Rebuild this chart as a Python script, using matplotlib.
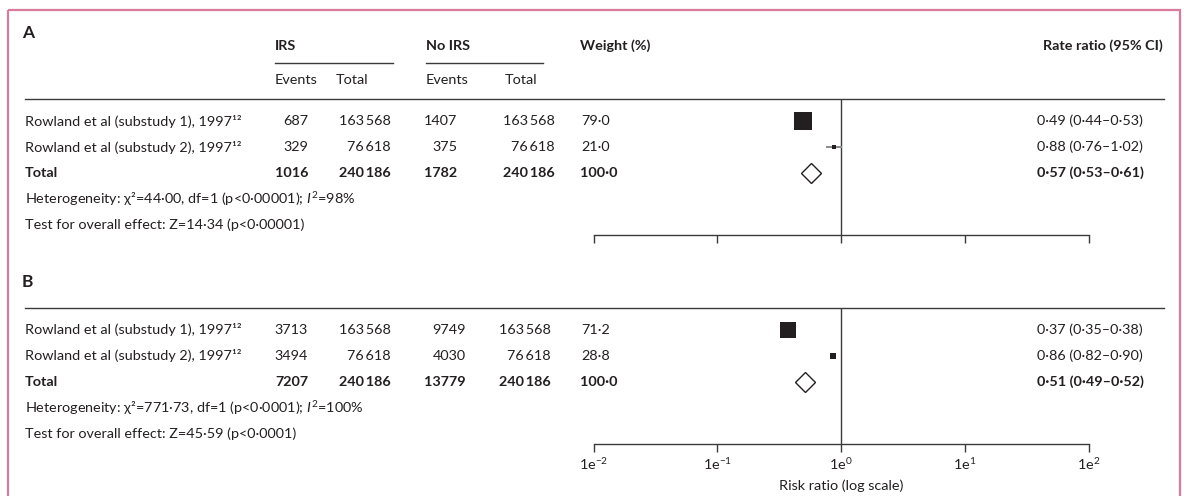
import matplotlib
matplotlib.use("Agg")
import matplotlib.pyplot as plt
from matplotlib.patches import Rectangle

plt.rcParams['font.family'] = ['Lato', 'DejaVu Sans']
plt.rcParams['mathtext.fontset'] = 'custom'
plt.rcParams['mathtext.rm'] = 'Lato'
plt.rcParams['mathtext.it'] = 'Lato:italic'
plt.rcParams['mathtext.bf'] = 'Lato:bold'
plt.rcParams['mathtext.default'] = 'regular'

INK = '#231f20'
RULE = '#3a3a3a'
CI_GREY = '#8a8a8a'
FRAME = '#d97b9b'

# ---- data ----------------------------------------------------------------
studies = ["Rowland et al (substudy 1), 1997", "Rowland et al (substudy 2), 1997"]
ref_mark = "¹²"

# Panel A
irs_events_a = [687, 329]
irs_total_a = [163568, 76618]
noirs_events_a = [1407, 375]
noirs_total_a = [163568, 76618]
weight_a = [79.0, 21.0]
rr_a = [0.49, 0.88]
rr_lo_a = [0.44, 0.76]
rr_hi_a = [0.53, 1.02]
pooled_a = [1016, 240186, 1782, 240186, 100.0]
pooled_rr_a = [0.57, 0.53, 0.61]
hetero_a = ("44·00", "1", "p<0·00001", "98")
overall_a = ("14·34", "p<0·00001")

# Panel B
irs_events_b = [3713, 3494]
irs_total_b = [163568, 76618]
noirs_events_b = [9749, 4030]
noirs_total_b = [163568, 76618]
weight_b = [71.2, 28.8]
rr_b = [0.37, 0.86]
rr_lo_b = [0.35, 0.82]
rr_hi_b = [0.38, 0.90]
pooled_b = [7207, 240186, 13779, 240186, 100.0]
pooled_rr_b = [0.51, 0.49, 0.52]
hetero_b = ("771·73", "1", "p<0·0001", "100")
overall_b = ("45·59", "p<0·0001")

axis_ticks = [1e-2, 1e-1, 1e0, 1e1, 1e2]
axis_tick_labels = ["1e$^{-2}$", "1e$^{-1}$", "1e$^{0}$", "1e$^{1}$", "1e$^{2}$"]


def dec(v, nd):
    return f"{v:.{nd}f}".replace(".", "·")


def count(n):
    s = str(n)
    if n >= 20000:
        return s[:-3] + "\u2009" + s[-3:]
    return s


def ratio(r, lo, hi):
    return f"{dec(r, 2)} ({dec(lo, 2)}–{dec(hi, 2)})"


# ---- figure & layout (pixel units) ---------------------------------------
W, H = 1184, 496
fig = plt.figure(figsize=(W / 100, H / 100), dpi=100)
bg = fig.add_axes([0, 0, 1, 1])
bg.set_xlim(0, W)
bg.set_ylim(H, 0)
bg.axis('off')

FS = 10.4
X_LABEL = 25
X_RULE_END = 1164
X_WEIGHT = 581
X_RR = 1037
X_LOG_LO, X_LOG_HI = 593.5, 1089

bg.add_patch(Rectangle((8, 10), 1172, 500, fill=False, edgecolor=FRAME, lw=1.6))


def txt(x, y, s, ha='left', bold=False, size=FS):
    bg.text(x, y, s, ha=ha, va='center', fontsize=size, color=INK,
            fontweight='bold' if bold else 'normal')


def panel(letter, top, cols, ev_i, tot_i, ev_c, tot_c, wts, rr, lo, hi,
          pooled, pooled_rr, hetero, overall, headers, show_labels):
    txt(X_LABEL - 3, top, letter, bold=True, size=12.5)
    if headers:
        txt(275, 46, "IRS", bold=True)
        txt(426, 46, "No IRS", bold=True)
        txt(580, 46, "Weight (%)", bold=True)
        txt(1163, 46, "Rate ratio (95% CI)", ha='right', bold=True)
        bg.plot([275, 393], [63, 63], color=RULE, lw=1.0)
        bg.plot([426, 543], [63, 63], color=RULE, lw=1.0)
        txt(275, 80, "Events")
        txt(336, 80, "Total")
        txt(426, 80, "Events")
        txt(505, 80, "Total")
        y_rule = 99
    else:
        y_rule = top + 26
    bg.plot([X_LABEL, X_RULE_END], [y_rule, y_rule], color=RULE, lw=1.0)

    rows = [y_rule + 22 + 26 * i for i in range(5)]
    x_ev_i, x_tot_i, x_ev_c, x_tot_c = cols
    for i, name in enumerate(studies):
        y = rows[i]
        txt(X_LABEL, y, name + ref_mark)
        txt(x_ev_i, y, count(ev_i[i]), ha='right')
        txt(x_tot_i, y, count(tot_i[i]), ha='right')
        txt(x_ev_c, y, count(ev_c[i]), ha='right')
        txt(x_tot_c, y, count(tot_c[i]), ha='right')
        txt(X_WEIGHT, y, dec(wts[i], 1))
        txt(X_RR, y, ratio(rr[i], lo[i], hi[i]))
    y = rows[2]
    txt(X_LABEL, y, "Total", bold=True)
    txt(x_ev_i, y, count(pooled[0]), ha='right', bold=True)
    txt(x_tot_i, y, count(pooled[1]), ha='right', bold=True)
    txt(x_ev_c, y, count(pooled[2]), ha='right', bold=True)
    txt(x_tot_c, y, count(pooled[3]), ha='right', bold=True)
    txt(X_WEIGHT - 1, y, dec(pooled[4], 1), bold=True)
    txt(X_RR, y, ratio(*pooled_rr), bold=True)
    chi, df, p, i2 = hetero
    txt(X_LABEL, rows[3],
        f"Heterogeneity: χ²={chi}, df={df} ({p}); $\\mathit{{I}}^{{2}}$={i2}%")
    z, pz = overall
    txt(X_LABEL, rows[4], f"Test for overall effect: Z={z} ({pz})")

    # forest plot on a log axis
    y_axis = rows[4] + 10
    ax = fig.add_axes([X_LOG_LO / W, 1 - y_axis / H,
                       (X_LOG_HI - X_LOG_LO) / W, (y_axis - y_rule) / H])
    ax.set_xscale('log')
    ax.set_xlim(axis_ticks[0], axis_ticks[-1])
    ax.set_ylim(y_axis, y_rule)
    ax.patch.set_alpha(0)
    for s in ('left', 'right', 'top'):
        ax.spines[s].set_visible(False)
    ax.spines['bottom'].set_color(RULE)
    ax.spines['bottom'].set_linewidth(1.0)
    ax.set_yticks([])
    ax.set_xticks(axis_ticks)
    ax.minorticks_off()
    ax.tick_params(axis='x', direction='out', length=6, width=1.0, color=RULE,
                   pad=3, labelsize=FS, labelcolor=INK)
    if show_labels:
        ax.set_xticklabels(axis_tick_labels)
        ax.set_xlabel("Risk ratio (log scale)", fontsize=FS, color=INK, labelpad=5)
    else:
        ax.set_xticklabels([])
    ax.axvline(1.0, color=RULE, lw=1.0)
    for i in range(len(studies)):
        ax.plot([lo[i], hi[i]], [rows[i], rows[i]], color=CI_GREY, lw=1.4,
                clip_on=False, solid_capstyle='butt')
        side_px = wts[i] * 0.23
        ax.plot([rr[i]], [rows[i]], marker='s', ms=side_px * 0.72,
                mfc=INK, mec=INK, mew=0, ls='none', clip_on=False)
    ax.plot([pooled_rr[0]], [rows[2]], marker='D', ms=10.6, mfc='white',
            mec=INK, mew=1.0, ls='none', clip_on=False)


panel("A", 33, (308, 391, 457, 555), irs_events_a, irs_total_a, noirs_events_a,
      noirs_total_a, weight_a, rr_a, rr_lo_a, rr_hi_a, pooled_a, pooled_rr_a,
      hetero_a, overall_a, headers=True, show_labels=False)
panel("B", 282, (308, 391, 466, 551), irs_events_b, irs_total_b, noirs_events_b,
      noirs_total_b, weight_b, rr_b, rr_lo_b, rr_hi_b, pooled_b, pooled_rr_b,
      hetero_b, overall_b, headers=False, show_labels=True)

fig.savefig("out.png", dpi=100)
